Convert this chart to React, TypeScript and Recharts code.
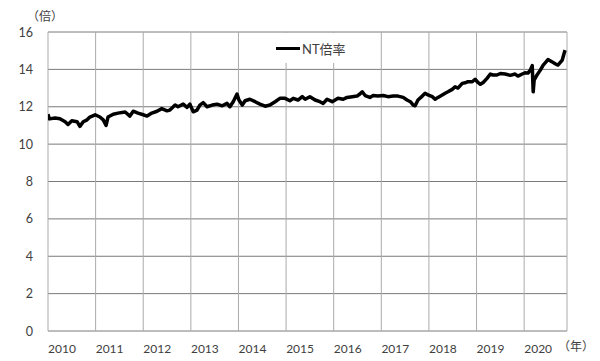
import React from 'react';
import { LineChart, Line, XAxis, YAxis, CartesianGrid, Legend } from 'recharts';

// decimal year positions
const years = [
  2010.0, 2010.03, 2010.15, 2010.25, 2010.36, 2010.42, 2010.5, 2010.61, 2010.67, 2010.74,
  2010.82, 2010.88, 2010.99, 2011.09, 2011.16, 2011.22, 2011.26, 2011.37, 2011.47, 2011.62,
  2011.72, 2011.79, 2011.89, 2012.0, 2012.08, 2012.18, 2012.29, 2012.39, 2012.5, 2012.56,
  2012.67, 2012.73, 2012.84, 2012.92, 2012.98, 2013.05, 2013.13, 2013.19, 2013.26, 2013.34,
  2013.45, 2013.55, 2013.66, 2013.76, 2013.82, 2013.89, 2013.97, 2014.01, 2014.08, 2014.14,
  2014.24, 2014.35, 2014.45, 2014.56, 2014.66, 2014.77, 2014.87, 2014.98, 2015.08, 2015.15,
  2015.25, 2015.34, 2015.4, 2015.5, 2015.61, 2015.71, 2015.78, 2015.86, 2015.97, 2016.03,
  2016.09, 2016.2, 2016.28, 2016.39, 2016.49, 2016.55, 2016.6, 2016.66, 2016.76, 2016.83,
  2016.93, 2017.04, 2017.14, 2017.25, 2017.35, 2017.46, 2017.54, 2017.61, 2017.67, 2017.71,
  2017.77, 2017.86, 2017.92, 2017.98, 2018.07, 2018.13, 2018.19, 2018.28, 2018.34, 2018.4,
  2018.49, 2018.55, 2018.61, 2018.7, 2018.76, 2018.82, 2018.91, 2018.97, 2019.03, 2019.08,
  2019.14, 2019.22, 2019.29, 2019.35, 2019.43, 2019.5, 2019.6, 2019.71, 2019.81, 2019.87,
  2019.96, 2020.02, 2020.08, 2020.13, 2020.17, 2020.19, 2020.21, 2020.27, 2020.34, 2020.4,
  2020.46, 2020.5, 2020.59, 2020.65, 2020.71, 2020.8, 2020.84, 2020.86,
];

const ntRatio = [
  11.6, 11.35, 11.4, 11.36, 11.2, 11.05, 11.25, 11.2, 10.95, 11.2,
  11.3, 11.45, 11.57, 11.45, 11.3, 11.0, 11.45, 11.6, 11.66, 11.72,
  11.5, 11.76, 11.66, 11.57, 11.5, 11.66, 11.76, 11.9, 11.78, 11.82,
  12.09, 12.0, 12.14, 11.97, 12.14, 11.73, 11.82, 12.09, 12.22, 12.0,
  12.09, 12.14, 12.05, 12.18, 12.0, 12.27, 12.68, 12.36, 12.09, 12.32,
  12.4, 12.27, 12.14, 12.03, 12.09, 12.27, 12.45, 12.45, 12.32, 12.45,
  12.36, 12.54, 12.4, 12.54, 12.36, 12.27, 12.18, 12.4, 12.27, 12.36,
  12.45, 12.4, 12.5, 12.54, 12.57, 12.68, 12.8, 12.6, 12.5, 12.6,
  12.57, 12.6, 12.54, 12.57, 12.57, 12.5, 12.36, 12.27, 12.09, 12.05,
  12.36, 12.57, 12.72, 12.63, 12.54, 12.4, 12.5, 12.63, 12.72, 12.8,
  12.93, 13.07, 13.0, 13.25, 13.28, 13.34, 13.34, 13.47, 13.3, 13.2,
  13.3, 13.52, 13.75, 13.7, 13.7, 13.78, 13.75, 13.68, 13.75, 13.64,
  13.75, 13.82, 13.8, 13.96, 14.2, 12.8, 13.43, 13.7, 13.96, 14.23,
  14.4, 14.53, 14.4, 14.3, 14.23, 14.5, 14.86, 15.03,
];

const xTicks = [2010, 2011, 2012, 2013, 2014, 2015, 2016, 2017, 2018, 2019, 2020];
const yTicks = [0, 2, 4, 6, 8, 10, 12, 14, 16];

const data = years.map((t, i) => ({ t, nt: ntRatio[i] }));

const font = "Lato, 'Noto Sans CJK JP', sans-serif";
const textColor = '#404040';

const XTick = ({ x, y, payload }: any) => (
  <text x={x + 14} y={y} dy={14} textAnchor="middle" fontSize={12} fontFamily={font} fill={textColor}>
    {payload.value}
  </text>
);

const YTick = ({ x, y, payload }: any) => (
  <text x={x - 7} y={y} dy="0.36em" textAnchor="end" fontSize={12.5} fontFamily={font} fill={textColor}>
    {payload.value}
  </text>
);

const LegendBox = () => (
  <div
    style={{
      width: 84,
      height: 30,
      background: '#fff',
      display: 'flex',
      alignItems: 'center',
      paddingLeft: 6,
      boxSizing: 'border-box',
      fontFamily: font,
      fontSize: 13,
      color: textColor,
    }}
  >
    <span style={{ display: 'inline-block', width: 24, height: 3, background: '#000', marginRight: 2 }} />
    NT倍率
  </div>
);

export default function App() {
  return (
    <div style={{ position: 'absolute', left: 0, top: 0, width: 600, height: 361, background: '#fff' }}>
      <LineChart width={600} height={361} data={data} margin={{ top: 32, right: 33, left: 8, bottom: 10 }}>
        <CartesianGrid vertical={false} stroke="#7a7a7a" />
        <CartesianGrid horizontal={false} stroke="#ababab" />
        <XAxis
          dataKey="t"
          type="number"
          domain={[2010, 2020.9]}
          ticks={xTicks}
          axisLine={false}
          tickLine={false}
          height={20}
          tick={<XTick />}
          allowDataOverflow
        />
        <YAxis
          domain={[0, 16]}
          ticks={yTicks}
          axisLine={false}
          tickLine={false}
          width={40}
          tick={<YTick />}
        />
        <Legend
          layout="vertical"
          align="center"
          verticalAlign="middle"
          content={<LegendBox />}
          wrapperStyle={{ left: 270, top: 33, width: 84, height: 30 }}
        />
        <Line
          type="linear"
          dataKey="nt"
          name="NT倍率"
          stroke="#000"
          strokeWidth={3.5}
          strokeLinejoin="round"
          dot={false}
          isAnimationActive={false}
        />
      </LineChart>
      <div style={{ position: 'absolute', left: 27, top: 7, fontFamily: font, fontSize: 12, color: textColor }}>（倍）</div>
      <div style={{ position: 'absolute', left: 558, top: 337, fontFamily: font, fontSize: 12, color: textColor }}>（年）</div>
    </div>
  );
}
